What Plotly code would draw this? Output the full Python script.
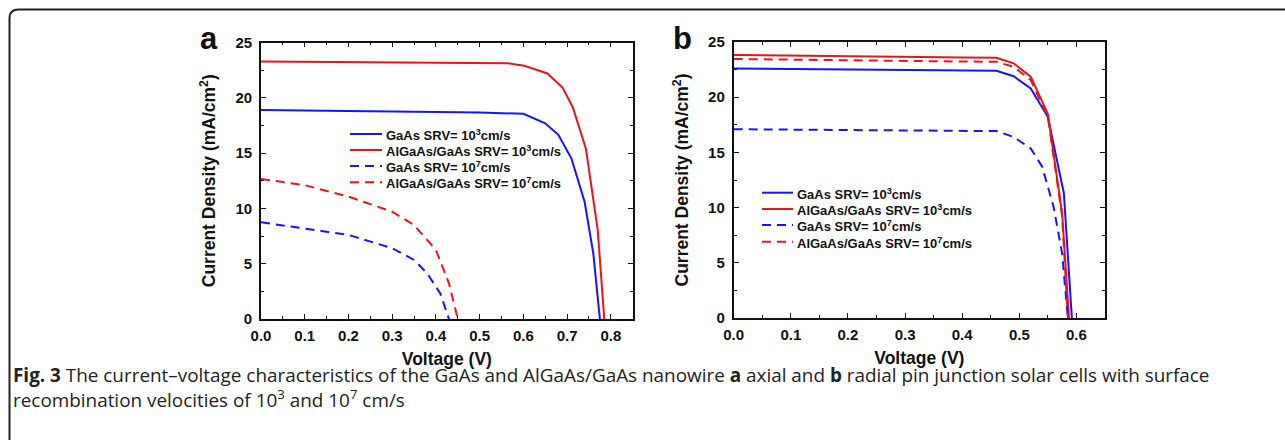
import plotly.graph_objects as go

# ---------------- data ----------------
# Panel a: axial pin junction
a_gaas_e3_v = [0, 0.1, 0.2, 0.3, 0.4, 0.5, 0.6, 0.65, 0.68, 0.71, 0.74, 0.76, 0.775]
a_gaas_e3_j = [18.9, 18.85, 18.8, 18.75, 18.72, 18.68, 18.55, 17.7, 16.65, 14.5, 10.6, 5.9, 0]
a_algaas_e3_v = [0, 0.1, 0.2, 0.3, 0.4, 0.5, 0.564, 0.602, 0.655, 0.69, 0.713, 0.743, 0.77, 0.785]
a_algaas_e3_j = [23.29, 23.25, 23.22, 23.2, 23.17, 23.15, 23.13, 22.9, 22.2, 20.9, 19.15, 15.4, 8.05, 0]
a_gaas_e7_v = [0, 0.1, 0.2, 0.3, 0.35, 0.38, 0.41, 0.43]
a_gaas_e7_j = [8.75, 8.2, 7.6, 6.4, 5.34, 4.13, 2.3, 0]
a_algaas_e7_v = [0, 0.1, 0.2, 0.3, 0.35, 0.4, 0.43, 0.45]
a_algaas_e7_j = [12.67, 12.1, 11.07, 9.7, 8.5, 6.24, 3.2, 0]

# Panel b: radial pin junction
b_gaas_e3_v = [0, 0.1, 0.2, 0.3, 0.4, 0.46, 0.49, 0.52, 0.55, 0.578, 0.592]
b_gaas_e3_j = [22.6, 22.55, 22.5, 22.47, 22.43, 22.4, 21.9, 20.8, 18.2, 11.3, 0]
b_algaas_e3_v = [0, 0.1, 0.2, 0.3, 0.4, 0.46, 0.49, 0.52, 0.55, 0.575, 0.587]
b_algaas_e3_j = [23.82, 23.75, 23.7, 23.65, 23.6, 23.58, 23.07, 21.86, 18.47, 9.46, 0]
b_gaas_e7_v = [0, 0.1, 0.2, 0.3, 0.4, 0.46, 0.49, 0.52, 0.54, 0.56, 0.575, 0.585]
b_gaas_e7_j = [17.1, 17.05, 17.0, 16.97, 16.95, 16.93, 16.4, 15.36, 13.7, 10.07, 5.83, 0]
b_algaas_e7_v = [0, 0.1, 0.2, 0.3, 0.4, 0.46, 0.49, 0.52, 0.55, 0.575, 0.585]
b_algaas_e7_j = [23.46, 23.4, 23.35, 23.3, 23.25, 23.2, 22.76, 21.56, 18.2, 9.2, 0]

series_names = [
    "GaAs SRV= 10<sup>3</sup>cm/s",
    "AlGaAs/GaAs SRV= 10<sup>3</sup>cm/s",
    "GaAs SRV= 10<sup>7</sup>cm/s",
    "AlGaAs/GaAs SRV= 10<sup>7</sup>cm/s",
]
x_title = "Voltage (V)"
y_title = "Current Density (mA/cm<sup>2</sup>)"
caption = ("<b>Fig. 3</b> The current–voltage characteristics of the GaAs and AlGaAs/GaAs nanowire "
           "<b>a</b> axial and <b>b</b> radial pin junction solar cells with surface<br>"
           "recombination velocities of 10<sup>3</sup> and 10<sup>7</sup> cm/s")

BLUE = "#1414ff"
RED = "#e8141c"
DASH = "9px,6px"
FONT = "Liberation Sans, Arial, sans-serif"
W, H = 1285, 440

fig = go.Figure()

panel_a = [(a_gaas_e3_v, a_gaas_e3_j, BLUE, "solid"),
           (a_algaas_e3_v, a_algaas_e3_j, RED, "solid"),
           (a_gaas_e7_v, a_gaas_e7_j, BLUE, DASH),
           (a_algaas_e7_v, a_algaas_e7_j, RED, DASH)]
panel_b = [(b_gaas_e3_v, b_gaas_e3_j, BLUE, "solid"),
           (b_algaas_e3_v, b_algaas_e3_j, RED, "solid"),
           (b_gaas_e7_v, b_gaas_e7_j, BLUE, DASH),
           (b_algaas_e7_v, b_algaas_e7_j, RED, DASH)]

for (v, j, c, d), name in zip(panel_a, series_names):
    fig.add_trace(go.Scatter(x=v, y=j, mode="lines", name=name, xaxis="x", yaxis="y",
                             line=dict(color=c, width=2, dash=d), showlegend=False))
for (v, j, c, d), name in zip(panel_b, series_names):
    fig.add_trace(go.Scatter(x=v, y=j, mode="lines", name=name, xaxis="x2", yaxis="y2",
                             line=dict(color=c, width=2, dash=d), showlegend=False))

tickfont = dict(family=FONT, size=15, color="#111", weight="bold")
titlefont = dict(family=FONT, size=17.5, color="#111", weight="bold")


def xax(domain, rng, anchor):
    return dict(domain=domain, range=rng, dtick=0.1, tick0=0, tickformat=".1f", anchor=anchor,
                showline=True, linewidth=1.8, linecolor="#111", mirror="allticks",
                ticks="inside", ticklen=5, tickwidth=1.4, tickcolor="#111",
                minor=dict(ticks="inside", ticklen=3, dtick=0.05, tickcolor="#111", tickwidth=1.2),
                showgrid=False, zeroline=False, tickfont=tickfont, ticklabelstandoff=2,
                title=dict(text=x_title, font=titlefont, standoff=10))


def yax(domain, anchor):
    return dict(domain=domain, range=[0, 25], dtick=5, anchor=anchor,
                showline=True, linewidth=1.8, linecolor="#111", mirror="allticks",
                ticks="inside", ticklen=5, tickwidth=1.4, tickcolor="#111",
                minor=dict(ticks="inside", ticklen=3, dtick=2.5, tickcolor="#111", tickwidth=1.2),
                showgrid=False, zeroline=False, tickfont=tickfont, ticklabelstandoff=4,
                title=dict(text=y_title, font=titlefont, standoff=15))


fig.update_layout(
    width=W, height=H,
    margin=dict(l=0, r=0, t=0, b=0, autoexpand=False),
    paper_bgcolor="white", plot_bgcolor="white",
    showlegend=False,
    xaxis=xax([261 / W, 632.7 / W], [0, 0.85], "y"),
    yaxis=yax([1 - 319 / H, 1 - 42.5 / H], "x"),
    xaxis2=xax([733.7 / W, 1105 / W], [0, 0.65], "y2"),
    yaxis2=yax([1 - 318 / H, 1 - 42 / H], "x2"),
)

# manual legends (line sample + label), positioned as in the reference
legfont = dict(family=FONT, size=13, color="#111", weight="bold")
legend_styles = [(BLUE, "solid"), (RED, "solid"), (BLUE, DASH), (RED, DASH)]
legend_a = dict(x0=350, x1=382, tx=384, rows=[134, 150, 166, 182.3])
legend_b = dict(x0=762, x1=793, tx=795, rows=[192.7, 209, 225, 241.7])
for leg in (legend_a, legend_b):
    for (c, d), name, yy in zip(legend_styles, series_names, leg["rows"]):
        fig.add_shape(type="line", xref="paper", yref="paper",
                      x0=leg["x0"] / W, x1=leg["x1"] / W, y0=1 - yy / H, y1=1 - yy / H,
                      line=dict(color=c, width=2, dash=d))
        fig.add_annotation(text=name, x=leg["tx"] / W, y=1 - (yy + 1) / H, xref="paper", yref="paper",
                           xanchor="left", yanchor="middle", showarrow=False, font=legfont)

# panel letters
for letter, px in (("a", 208.5), ("b", 682.5)):
    fig.add_annotation(text=f"<b>{letter}</b>", x=px / W, y=1 - 38 / H, xref="paper", yref="paper",
                       xanchor="center", yanchor="middle", showarrow=False,
                       font=dict(family=FONT, size=31, color="#111"))

# caption
fig.add_annotation(text=caption, x=11 / W, y=1 - 360 / H, xref="paper", yref="paper",
                   xanchor="left", yanchor="top", align="left", showarrow=False,
                   font=dict(family="Open Sans, sans-serif", size=18.9, color="#222"))

# rounded frame (open on right and bottom)
fig.add_shape(type="path", xref="paper", yref="paper",
              path=f"M {9.5/W},{-0.05} L {9.5/W},{1-18/H} Q {9.5/W},{1-9.5/H} {18.5/W},{1-9.5/H} L 1.05,{1-9.5/H}",
              line=dict(color="#222", width=2))

fig.write_html("out.html",
               post_script="document.body.style.margin='0';document.body.style.padding='0';")
